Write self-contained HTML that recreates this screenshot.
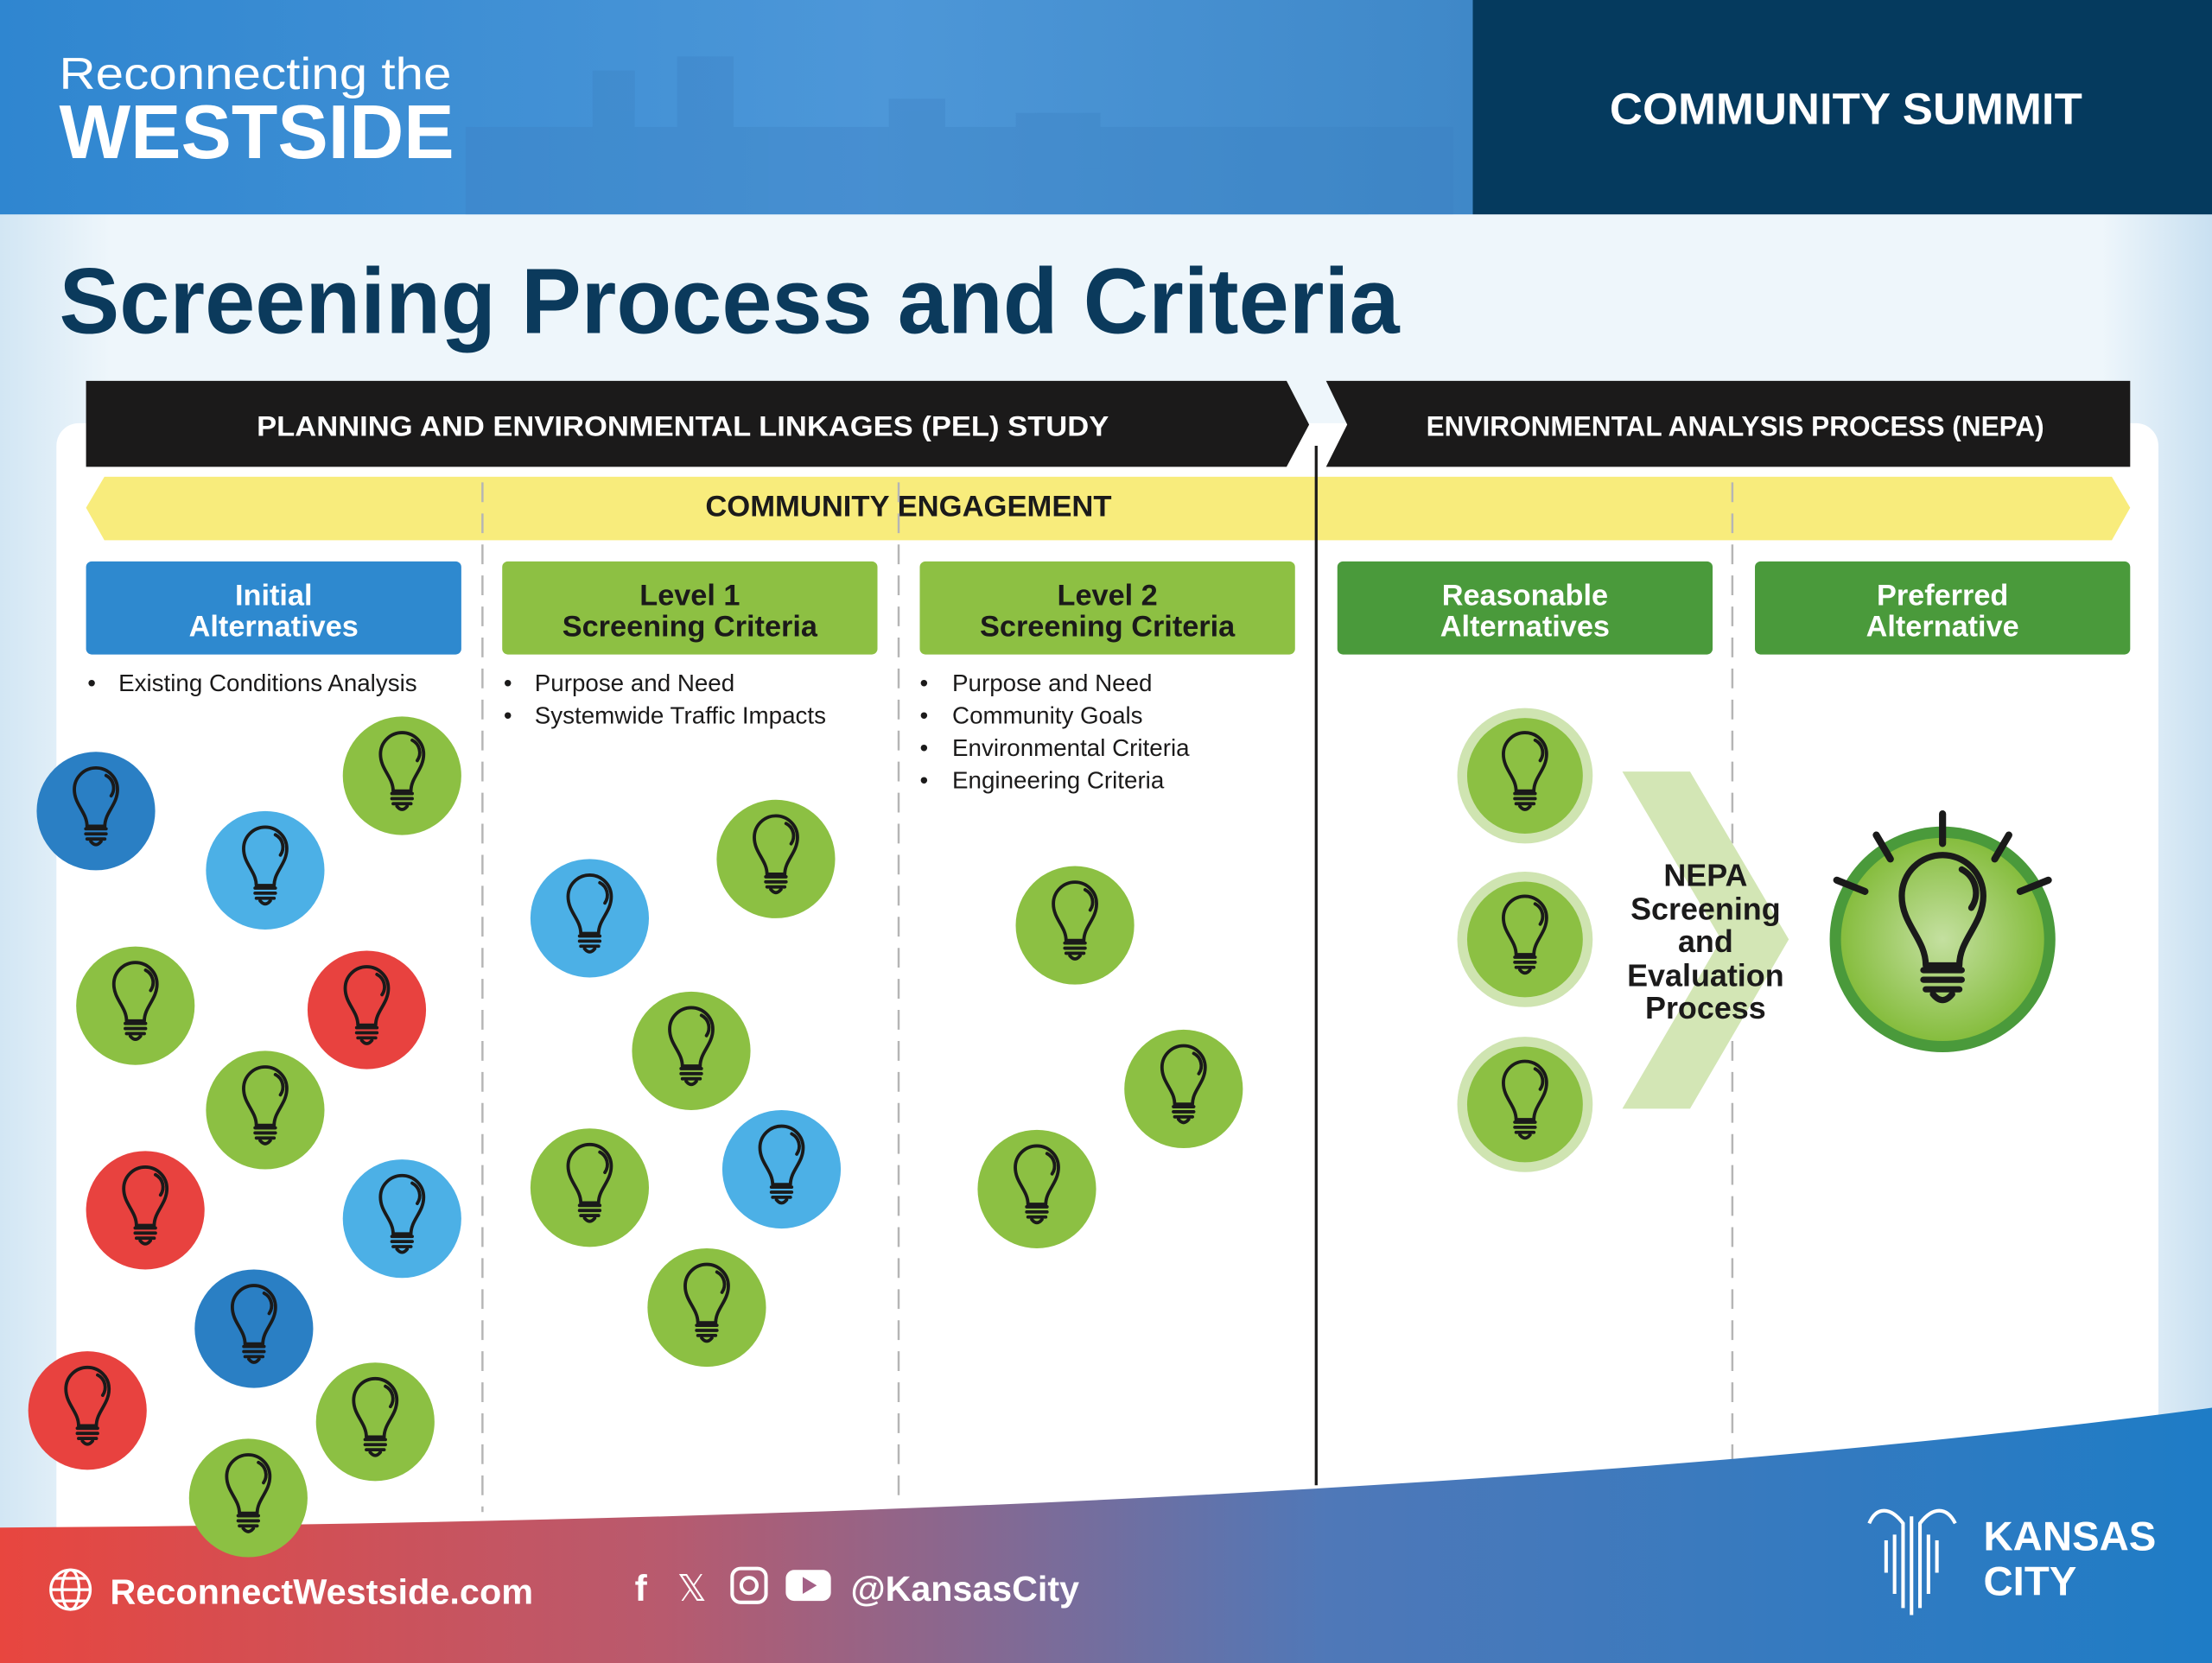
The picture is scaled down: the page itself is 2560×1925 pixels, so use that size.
<!DOCTYPE html>
<html><head><meta charset="utf-8"><style>
html,body{margin:0;padding:0;background:#fff}
svg{display:block}
text{font-family:"Liberation Sans",sans-serif}
</style></head><body>
<svg width="2560" height="1925" viewBox="0 0 1568 1179" preserveAspectRatio="none" xmlns="http://www.w3.org/2000/svg">
<defs>
<linearGradient id="hdr" x1="0" y1="0" x2="1" y2="0">
<stop offset="0" stop-color="#2f86d0"/><stop offset="0.6" stop-color="#4d97d8"/><stop offset="1" stop-color="#3f88c8"/></linearGradient>
<linearGradient id="bg" x1="0" y1="0" x2="1" y2="0">
<stop offset="0" stop-color="#d2e6f4"/><stop offset="0.05" stop-color="#eef6fb"/><stop offset="0.95" stop-color="#eef6fb"/><stop offset="1" stop-color="#c9e0f1"/></linearGradient>
<linearGradient id="foot" x1="0" y1="0" x2="1" y2="0">
<stop offset="0" stop-color="#e8463f"/><stop offset="0.3" stop-color="#b85a6e"/><stop offset="0.6" stop-color="#4f78b8"/><stop offset="1" stop-color="#1e7cc6"/></linearGradient>
<radialGradient id="big" cx="0.5" cy="0.5" r="0.5">
<stop offset="0" stop-color="#c4e0a0"/><stop offset="1" stop-color="#86bd3e"/></radialGradient>
<g id="b0" fill="none" stroke="#1a1a1a" stroke-width="2.6" stroke-linecap="round" stroke-linejoin="round">
<path d="M -7 12 C -7 1 -17 -5 -17 -17 A 17 17 0 1 1 17 -17 C 17 -5 7 1 7 12 Z"/>
<path d="M 8 -28 A 11 11 0 0 1 12 -12"/>
<path d="M -8 14 H 8 M -8 18 H 8 M -7 22 H 7"/>
<path d="M -4 24 Q 0 29 4 24"/>
</g>
<g id="b"><g transform="scale(0.9)"><use href="#b0"/></g></g>
</defs>
<rect width="1568" height="1179" fill="url(#bg)"/>
<rect x="0" y="0" width="1044" height="152" fill="url(#hdr)"/>
<g fill="#3a7fc0" opacity="0.3">
<rect x="330" y="90" width="700" height="62"/><rect x="420" y="50" width="30" height="50"/><rect x="480" y="40" width="40" height="60"/><rect x="630" y="70" width="40" height="40"/><rect x="830" y="90" width="140" height="62"/><rect x="720" y="80" width="60" height="40"/>
</g>
<rect x="1044" y="0" width="524" height="152" fill="#053a5e"/>
<text x="42" y="63" font-size="32" fill="#fff" textLength="278" lengthAdjust="spacingAndGlyphs">Reconnecting the</text>
<text x="42" y="112" font-size="54" font-weight="bold" fill="#fff" textLength="280" lengthAdjust="spacingAndGlyphs">WESTSIDE</text>
<text x="1141" y="88" font-size="31" font-weight="bold" fill="#fff" textLength="335" lengthAdjust="spacingAndGlyphs">COMMUNITY SUMMIT</text>
<text x="42" y="236" font-size="66" font-weight="bold" fill="#0b3a5c" textLength="950" lengthAdjust="spacingAndGlyphs">Screening Process and Criteria</text>
<rect x="40" y="300" width="1490" height="800" rx="16" fill="#fff"/>
<polygon points="61,270 912,270 928,301 912,331 61,331" fill="#1b1a1a"/>
<polygon points="940,270 1510,270 1510,331 940,331 955,301" fill="#1b1a1a"/>
<text x="484" y="309" font-size="20" font-weight="bold" fill="#fff" text-anchor="middle" textLength="604" lengthAdjust="spacingAndGlyphs">PLANNING AND ENVIRONMENTAL LINKAGES (PEL) STUDY</text>
<text x="1230" y="309" font-size="20" font-weight="bold" fill="#fff" text-anchor="middle" textLength="438" lengthAdjust="spacingAndGlyphs">ENVIRONMENTAL ANALYSIS PROCESS (NEPA)</text>
<polygon points="74,338 1497,338 1510,360 1497,383 74,383 61,360" fill="#f8ec7c"/>
<text x="644" y="366" font-size="21" font-weight="bold" fill="#1b1a1a" text-anchor="middle" textLength="288" lengthAdjust="spacingAndGlyphs">COMMUNITY ENGAGEMENT</text>
<g stroke="#b5b5b5" stroke-width="1.5" stroke-dasharray="14 8">
<line x1="342" y1="342" x2="342" y2="1072"/><line x1="637" y1="342" x2="637" y2="1066"/><line x1="1228" y1="342" x2="1228" y2="1035"/>
</g>
<line x1="933" y1="316" x2="933" y2="1053" stroke="#1b1a1a" stroke-width="2"/>
<rect x="61" y="398" width="266" height="66" rx="4" fill="#2e89cf"/>
<rect x="356" y="398" width="266" height="66" rx="4" fill="#8dc043"/>
<rect x="652" y="398" width="266" height="66" rx="4" fill="#8dc043"/>
<rect x="948" y="398" width="266" height="66" rx="4" fill="#4a9a3b"/>
<rect x="1244" y="398" width="266" height="66" rx="4" fill="#4a9a3b"/>
<g font-size="21" font-weight="bold" text-anchor="middle">
<text x="194" y="429" fill="#fff">Initial</text><text x="194" y="451" fill="#fff">Alternatives</text>
<text x="489" y="429" fill="#1b1a1a">Level 1</text><text x="489" y="451" fill="#1b1a1a">Screening Criteria</text>
<text x="785" y="429" fill="#1b1a1a">Level 2</text><text x="785" y="451" fill="#1b1a1a">Screening Criteria</text>
<text x="1081" y="429" fill="#fff">Reasonable</text><text x="1081" y="451" fill="#fff">Alternatives</text>
<text x="1377" y="429" fill="#fff">Preferred</text><text x="1377" y="451" fill="#fff">Alternative</text>
</g>
<g font-size="17" fill="#1b1a1a">
<text x="62" y="490">•</text><text x="84" y="490">Existing Conditions Analysis</text>
<text x="357" y="490">•</text><text x="379" y="490">Purpose and Need</text>
<text x="357" y="513">•</text><text x="379" y="513">Systemwide Traffic Impacts</text>
<text x="652" y="490">•</text><text x="675" y="490">Purpose and Need</text>
<text x="652" y="513">•</text><text x="675" y="513">Community Goals</text>
<text x="652" y="536">•</text><text x="675" y="536">Environmental Criteria</text>
<text x="652" y="559">•</text><text x="675" y="559">Engineering Criteria</text>
</g>
<path d="M0,1083 C 500,1080 1100,1060 1568,998 L1568,1179 L0,1179 Z" fill="url(#foot)"/>
<g>
<circle cx="68" cy="575" r="42" fill="#2a7fc4"/><use href="#b" x="68" y="575"/>
<circle cx="188" cy="617" r="42" fill="#4cb0e6"/><use href="#b" x="188" y="617"/>
<circle cx="285" cy="550" r="42" fill="#8cc043"/><use href="#b" x="285" y="550"/>
<circle cx="96" cy="713" r="42" fill="#8cc043"/><use href="#b" x="96" y="713"/>
<circle cx="260" cy="716" r="42" fill="#e8423f"/><use href="#b" x="260" y="716"/>
<circle cx="188" cy="787" r="42" fill="#8cc043"/><use href="#b" x="188" y="787"/>
<circle cx="103" cy="858" r="42" fill="#e8423f"/><use href="#b" x="103" y="858"/>
<circle cx="285" cy="864" r="42" fill="#4cb0e6"/><use href="#b" x="285" y="864"/>
<circle cx="180" cy="942" r="42" fill="#2a7fc4"/><use href="#b" x="180" y="942"/>
<circle cx="62" cy="1000" r="42" fill="#e8423f"/><use href="#b" x="62" y="1000"/>
<circle cx="266" cy="1008" r="42" fill="#8cc043"/><use href="#b" x="266" y="1008"/>
<circle cx="176" cy="1062" r="42" fill="#8cc043"/><use href="#b" x="176" y="1062"/>
<circle cx="550" cy="609" r="42" fill="#8cc043"/><use href="#b" x="550" y="609"/>
<circle cx="418" cy="651" r="42" fill="#4cb0e6"/><use href="#b" x="418" y="651"/>
<circle cx="490" cy="745" r="42" fill="#8cc043"/><use href="#b" x="490" y="745"/>
<circle cx="418" cy="842" r="42" fill="#8cc043"/><use href="#b" x="418" y="842"/>
<circle cx="554" cy="829" r="42" fill="#4cb0e6"/><use href="#b" x="554" y="829"/>
<circle cx="501" cy="927" r="42" fill="#8cc043"/><use href="#b" x="501" y="927"/>
<circle cx="762" cy="656" r="42" fill="#8cc043"/><use href="#b" x="762" y="656"/>
<circle cx="839" cy="772" r="42" fill="#8cc043"/><use href="#b" x="839" y="772"/>
<circle cx="735" cy="843" r="42" fill="#8cc043"/><use href="#b" x="735" y="843"/>
</g>
<polygon points="1150,547 1198,547 1268,666 1198,786 1150,786 1220,666" fill="#d3e6b5"/>
<g>
<circle cx="1081" cy="550" r="48" fill="#cfe4b1"/><circle cx="1081" cy="550" r="41" fill="#8cc043"/><use href="#b" x="1081" y="550"/>
<circle cx="1081" cy="666" r="48" fill="#cfe4b1"/><circle cx="1081" cy="666" r="41" fill="#8cc043"/><use href="#b" x="1081" y="666"/>
<circle cx="1081" cy="783" r="48" fill="#cfe4b1"/><circle cx="1081" cy="783" r="41" fill="#8cc043"/><use href="#b" x="1081" y="783"/>
</g>
<g font-size="22" font-weight="bold" fill="#1b1a1a" text-anchor="middle">
<text x="1209" y="628">NEPA</text><text x="1209" y="652">Screening</text><text x="1209" y="675">and</text><text x="1209" y="699">Evaluation</text><text x="1209" y="722">Process</text>
</g>
<circle cx="1377" cy="666" r="80" fill="#4a9a3b"/>
<circle cx="1377" cy="666" r="72" fill="url(#big)"/>
<g transform="translate(1377,664) scale(1.7)"><use href="#b0"/></g>
<g stroke="#1a1a1a" stroke-width="5" stroke-linecap="round">
<line x1="1377" y1="577" x2="1377" y2="598"/>
<line x1="1330" y1="592" x2="1340" y2="609"/>
<line x1="1424" y1="592" x2="1414" y2="609"/>
<line x1="1302" y1="624" x2="1322" y2="632"/>
<line x1="1452" y1="624" x2="1432" y2="632"/>
</g>
<g stroke="#fff" stroke-width="2" fill="none">
<circle cx="50" cy="1127" r="14"/><ellipse cx="50" cy="1127" rx="6" ry="14"/><line x1="36" y1="1127" x2="64" y2="1127"/><path d="M38,1119 H62 M38,1135 H62"/>
</g>
<text x="78" y="1137" font-size="25" font-weight="bold" fill="#fff" textLength="300" lengthAdjust="spacingAndGlyphs">ReconnectWestside.com</text>
<text x="450" y="1135" font-size="26" font-weight="bold" fill="#fff">f</text>
<text x="480" y="1135" font-size="26" fill="#fff">𝕏</text>
<rect x="519" y="1112" width="24" height="24" rx="6" fill="none" stroke="#fff" stroke-width="2.5"/><circle cx="531" cy="1124" r="5.5" fill="none" stroke="#fff" stroke-width="2.5"/>
<rect x="557" y="1113" width="32" height="22" rx="6" fill="#fff"/><polygon points="569,1118 569,1130 579,1124" fill="#a36086"/>
<text x="603" y="1135" font-size="25" font-weight="bold" fill="#fff" textLength="162" lengthAdjust="spacingAndGlyphs">@KansasCity</text>
<g stroke="#fff" stroke-width="2.5" fill="none">
<path d="M1355,1145 V1075 M1349,1140 V1080 C1340,1068 1330,1068 1325,1080 M1361,1140 V1080 C1370,1068 1380,1068 1386,1080 M1343,1130 V1088 M1367,1130 V1088 M1337,1115 V1092 M1373,1115 V1092"/>
</g>
<text x="1406" y="1099" font-size="29" font-weight="bold" fill="#fff">KANSAS</text>
<text x="1406" y="1131" font-size="29" font-weight="bold" fill="#fff">CITY</text>
</svg>
</body></html>
